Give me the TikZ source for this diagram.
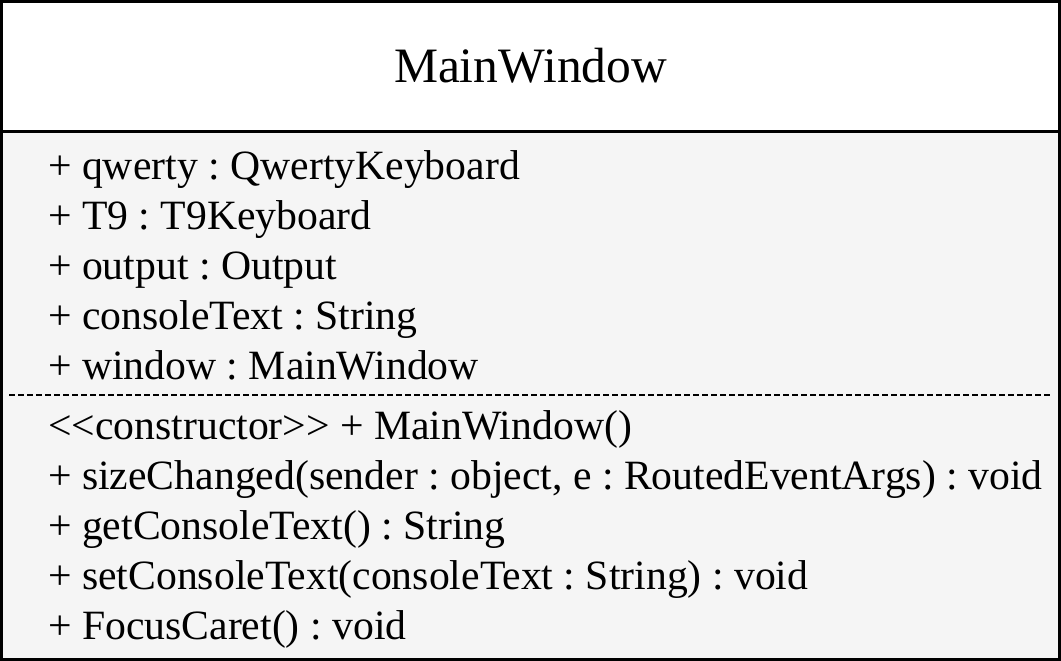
\documentclass[tikz,border=0pt]{standalone}
\usepackage{fontspec}
\setmainfont{Liberation Serif}
\usepackage{tikz}
\usetikzlibrary{positioning}
\frenchspacing

\tikzset{
  member/.style={anchor=base west, inner sep=0pt, font=\fontsize{41.7}{50}\selectfont},
  classname/.style={anchor=base, inner sep=0pt, font=\fontsize{49.5}{60}\selectfont}
}

\begin{document}
\begin{tikzpicture}[x=1pt, y=-1pt]
  \useasboundingbox (0,0) rectangle (1061,661);
  % compartments
  \fill[white] (1.5,1.5) rectangle (1059.5,131.5);
  \fill[black!4] (1.5,131.5) rectangle (1059.5,659.5);
  \draw[line width=3pt] (1.5,1.5) rectangle (1059.5,659.5);
  \draw[line width=3pt] (1.5,131.5) -- (1059.5,131.5);
  % attributes / operations separator
  \coordinate (sepL) at (9,395);
  \coordinate (sepR) at (1050,395);
  \draw[line width=2.5pt, dash pattern=on 6pt off 3pt] (sepL) -- (sepR);
  % class name
  \node[classname] (title) at (530.5,82) {MainWindow};
  % attributes
  \node[member] (qwerty) at (48,179) {+ qwerty : QwertyKeyboard};
  \node[member] (tnine) at (48,229) {+ T9 : T9Keyboard};
  \node[member] (output) at (48,279) {+ output : Output};
  \node[member] (console) at (48,329) {+ consoleText : String};
  \node[member] (window) at (48,379) {+ window : MainWindow};
  % operations
  \node[member] (ctor) at (48,439) {<{}<constructor>{}> + MainWindow()};
  \node[member] (sizechg) at (48,489) {+ sizeChanged(sender : object, e : RoutedEventArgs) : void};
  \node[member] (getcon) at (48,539) {+ getConsoleText() : String};
  \node[member] (setcon) at (48,589) {+ setConsoleText(consoleText : String) : void};
  \node[member] (focus) at (48,639) {+ FocusCaret() : void};
\end{tikzpicture}
\end{document}
